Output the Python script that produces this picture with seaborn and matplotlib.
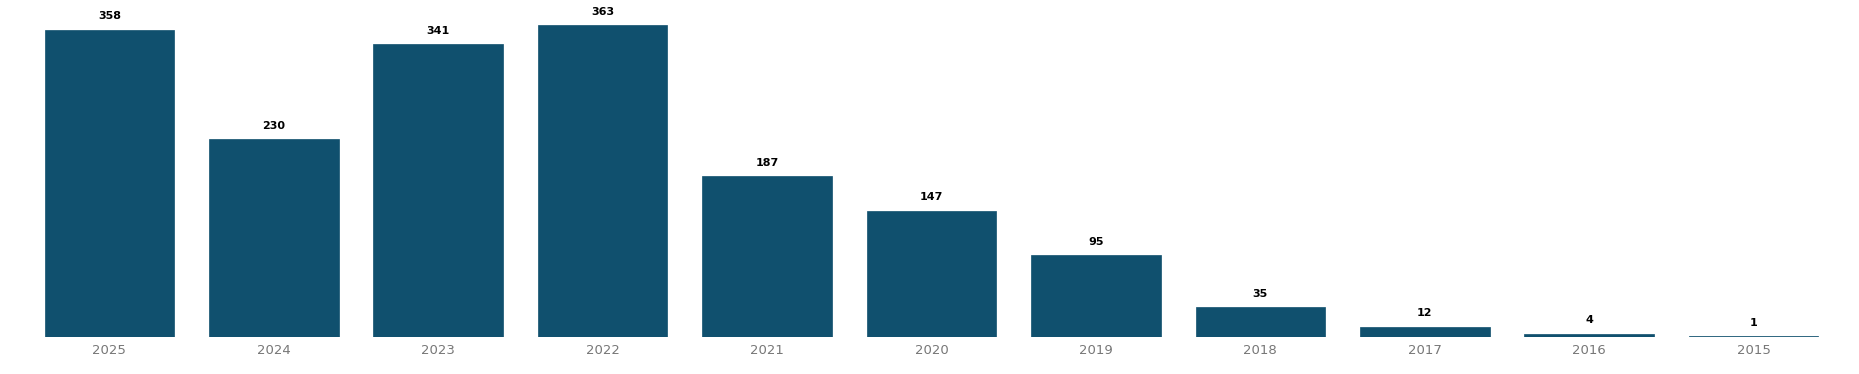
import matplotlib
matplotlib.use("Agg")
import matplotlib.pyplot as plt
import seaborn as sns
import pandas as pd

years = ["2025", "2024", "2023", "2022", "2021", "2020", "2019", "2018", "2017", "2016", "2015"]
counts = [358, 230, 341, 363, 187, 147, 95, 35, 12, 4, 1]

sns.set_theme(style="white")
plt.rcParams['font.family'] = ['DejaVu Sans']

W, H = 1859, 374
fig = plt.figure(figsize=(W / 100, H / 100), dpi=100)
ymax = 380
px_per_unit = 0.8587
base = 337
ax_left = 27.1 / W
ax_width = (1835.9 - 27.1) / W
ax_bottom = (H - base) / H
ax_height = ymax * px_per_unit / H
ax = fig.add_axes([ax_left, ax_bottom, ax_width, ax_height])

df = pd.DataFrame({"year": years, "count": counts})
sns.barplot(data=df, x="year", y="count", order=years, color="#10506e",
            saturation=1, width=0.788, ax=ax, edgecolor="#10506e", linewidth=0.5)

for i, v in enumerate(counts):
    ax.annotate(str(v), (i, v), xytext=(0, 6), textcoords="offset points",
                ha="center", va="bottom", fontsize=8, color="black", fontweight="semibold")

ax.set_xlim(-0.5, len(years) - 0.5)
ax.set_ylim(0, ymax)
ax.set_xlabel("")
ax.set_ylabel("")
ax.set_yticks([])
ax.tick_params(axis="x", length=0, pad=5, labelsize=9.5, labelcolor="#777777")
for s in ax.spines.values():
    s.set_visible(False)

fig.savefig("out.png", dpi=100)
